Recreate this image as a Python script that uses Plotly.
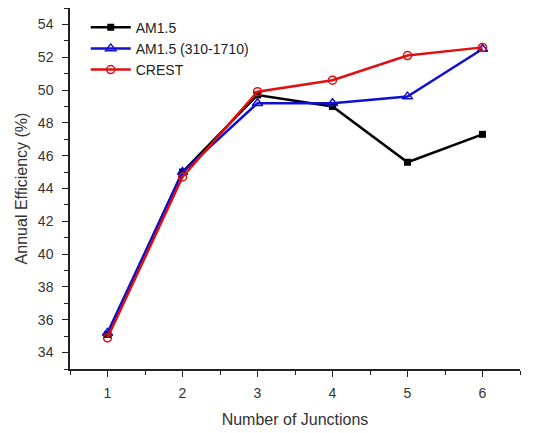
import plotly.graph_objects as go

junctions = [1, 2, 3, 4, 5, 6]
am15 = [35.1, 45.0, 49.7, 49.0, 45.6, 47.3]
am15_310_1710 = [35.2, 45.0, 49.2, 49.2, 49.6, 52.5]
crest = [34.9, 44.7, 49.9, 50.6, 52.1, 52.6]

fig = go.Figure()
fig.add_trace(go.Scatter(x=junctions, y=am15, name="AM1.5", mode="lines+markers",
                         line=dict(color="black", width=2.5),
                         marker=dict(symbol="square", size=7, color="black")))
fig.add_trace(go.Scatter(x=junctions, y=am15_310_1710, name="AM1.5 (310-1710)", mode="lines+markers",
                         line=dict(color="#1010d0", width=2.5),
                         marker=dict(symbol="triangle-up-open", size=9, color="#1010d0", line=dict(width=1.5))))
fig.add_trace(go.Scatter(x=junctions, y=crest, name="CREST", mode="lines+markers",
                         line=dict(color="#e01010", width=2.5),
                         marker=dict(symbol="circle-open", size=8, color="#e01010", line=dict(width=1.5))))

fig.update_layout(
    width=544, height=433,
    margin=dict(l=70, r=24, t=8, b=64),
    plot_bgcolor="white", paper_bgcolor="white",
    font=dict(family="Liberation Sans, Arial, sans-serif", color="#333333", size=14),
    showlegend=True,
    legend=dict(x=0.035, y=0.99, xanchor="left", yanchor="top", bgcolor="rgba(0,0,0,0)",
                font=dict(size=14, color="#222222"), tracegroupgap=0, itemwidth=40),
    xaxis=dict(range=[0.5, 6.5], tickvals=junctions, showgrid=False, zeroline=False, automargin=False,
               showline=True, linecolor="#222222", linewidth=1.5, ticks="outside", ticklen=6,
               tickcolor="#222222", ticklabelstandoff=4,
               minor=dict(tickvals=[0.5, 1.5, 2.5, 3.5, 4.5, 5.5, 6.5], ticks="outside", ticklen=4, tickcolor="#222222"),
               title=dict(text="Number of Junctions", font=dict(size=16), standoff=14)),
    yaxis=dict(range=[33, 55], tickvals=[34, 36, 38, 40, 42, 44, 46, 48, 50, 52, 54], showgrid=False,
               zeroline=False, showline=True, linecolor="#222222", linewidth=1.5, ticks="outside",
               ticklen=6, tickcolor="#222222", automargin=False, ticklabelstandoff=6,
               minor=dict(dtick=1, ticks="outside", ticklen=4, tickcolor="#222222"),
               title=dict(text="Annual Efficiency (%)", font=dict(size=16), standoff=6)),
)

fig.write_html("out.html", config={"displayModeBar": False},
               post_script="document.body.style.margin='0px';")
